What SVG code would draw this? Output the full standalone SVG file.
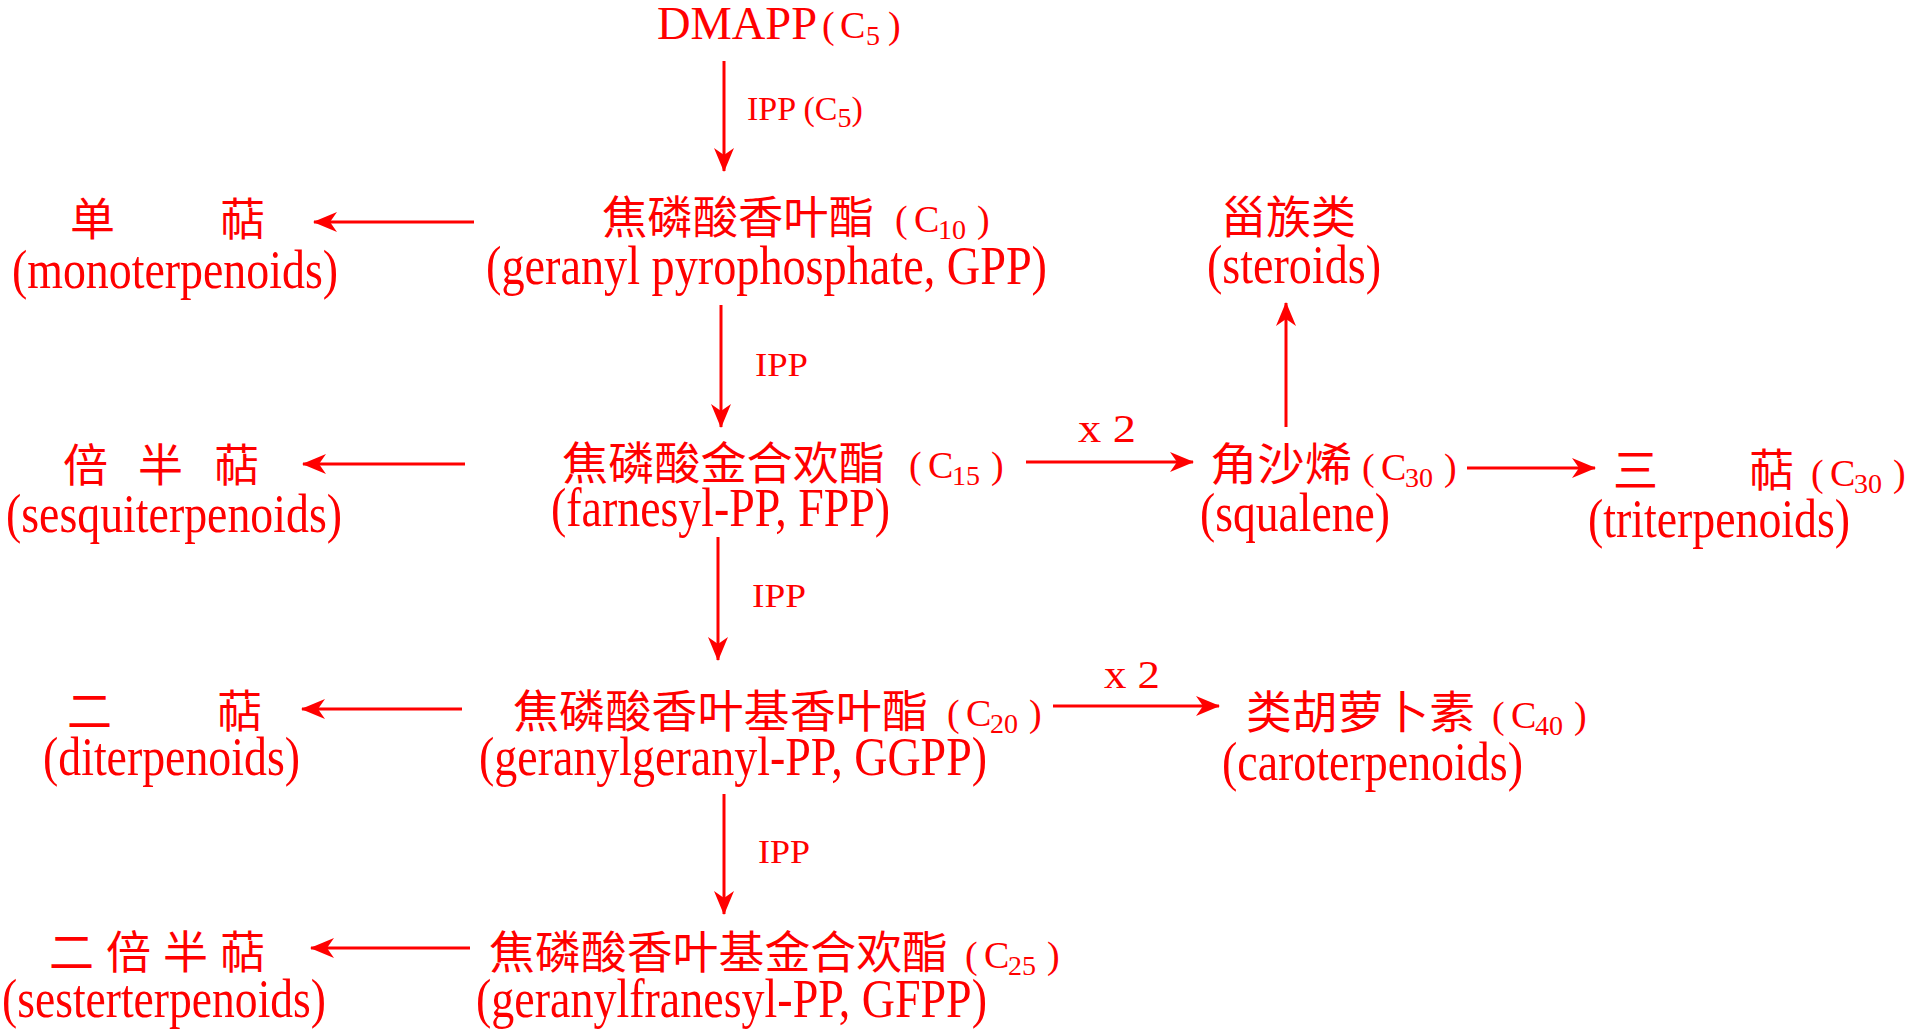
<svg xmlns="http://www.w3.org/2000/svg" width="1915" height="1030" viewBox="0 0 1915 1030">
<defs>
<marker id="ah" viewBox="0 0 24 20" markerUnits="userSpaceOnUse" markerWidth="24" markerHeight="20" refX="23" refY="10" orient="auto">
<path d="M0,0 L24,10 L0,20 L7,10 Z" fill="#ff0000"/>
</marker>
<style>
text{fill:#ff0000}
.cn{font-family:"Noto Sans CJK SC","Noto Sans",sans-serif;font-size:45px}
.en{font-family:"Liberation Serif","Times New Roman",serif;font-size:54px}
.cc{font-family:"Liberation Serif","Times New Roman",serif;font-size:38px}
.sb{font-size:28px}
.lb{font-family:"Liberation Serif","Times New Roman",serif;font-size:34px}
.ln{stroke:#ff0000;stroke-width:3;fill:none;marker-end:url(#ah)}
</style>
</defs>
<rect width="1915" height="1030" fill="#ffffff"/>

<g id="connectors">
<line class="ln" x1="724" y1="61" x2="724" y2="171"/>
<line class="ln" x1="721" y1="305" x2="721" y2="427"/>
<line class="ln" x1="718" y1="537" x2="718" y2="660"/>
<line class="ln" x1="724" y1="794" x2="724" y2="914"/>
<line class="ln" x1="474" y1="222" x2="314" y2="222"/>
<line class="ln" x1="465" y1="464" x2="303" y2="464"/>
<line class="ln" x1="462" y1="709" x2="302" y2="709"/>
<line class="ln" x1="470" y1="948" x2="311" y2="948"/>
<line class="ln" x1="1026" y1="462" x2="1193" y2="462"/>
<line class="ln" x1="1053" y1="706" x2="1219" y2="706"/>
<line class="ln" x1="1467" y1="468" x2="1595" y2="468"/>
<line class="ln" x1="1286" y1="427" x2="1286" y2="303"/>
<text class="lb" x="747" y="120"><tspan>IPP (C</tspan><tspan class="sb" dy="7">5</tspan><tspan dy="-7">)</tspan></text>
<text class="lb" x="755" y="376" textLength="53" lengthAdjust="spacingAndGlyphs">IPP</text>
<text class="lb" x="752" y="607" textLength="54" lengthAdjust="spacingAndGlyphs">IPP</text>
<text class="lb" x="758" y="863" textLength="52" lengthAdjust="spacingAndGlyphs">IPP</text>
<text class="lb" x="1078" y="442" style="font-size:40px" textLength="58" lengthAdjust="spacingAndGlyphs">x 2</text>
<text class="lb" x="1104" y="688" style="font-size:40px" textLength="56" lengthAdjust="spacingAndGlyphs">x 2</text>
</g>

<g id="dmapp">
<text class="en" x="657" y="39" style="font-size:47px" textLength="160" lengthAdjust="spacingAndGlyphs">DMAPP</text>
<text class="cc" y="38"><tspan x="822">(</tspan><tspan x="840">C</tspan><tspan class="sb" x="866" dy="7">5</tspan><tspan x="888" dy="-7">)</tspan></text>
</g>

<g id="gpp">
<text class="cn" x="602" y="234" textLength="272" lengthAdjust="spacingAndGlyphs">焦磷酸香叶酯</text>
<text class="cc" y="232"><tspan x="895">(</tspan><tspan x="914">C</tspan><tspan class="sb" x="938" dy="7">10</tspan><tspan x="977" dy="-7">)</tspan></text>
<text class="en" x="486" y="284" textLength="561" lengthAdjust="spacingAndGlyphs">(geranyl pyrophosphate, GPP)</text>
</g>

<g id="mono">
<text class="cn" x="70" y="236">单</text>
<text class="cn" x="220" y="236">萜</text>
<text class="en" x="12" y="288" textLength="326" lengthAdjust="spacingAndGlyphs">(monoterpenoids)</text>
</g>

<g id="steroids">
<text class="cn" x="1221" y="234" textLength="135" lengthAdjust="spacingAndGlyphs">甾族类</text>
<text class="en" x="1207" y="283" textLength="174" lengthAdjust="spacingAndGlyphs">(steroids)</text>
</g>

<g id="fpp">
<text class="cn" x="562" y="480" textLength="323" lengthAdjust="spacingAndGlyphs">焦磷酸金合欢酯</text>
<text class="cc" y="478"><tspan x="909">(</tspan><tspan x="928">C</tspan><tspan class="sb" x="952" dy="7">15</tspan><tspan x="991" dy="-7">)</tspan></text>
<text class="en" x="551" y="526" textLength="339" lengthAdjust="spacingAndGlyphs">(farnesyl-PP, FPP)</text>
</g>

<g id="sesqui">
<text class="cn" x="63" y="482">倍</text>
<text class="cn" x="138" y="482">半</text>
<text class="cn" x="214" y="482">萜</text>
<text class="en" x="6" y="532" textLength="336" lengthAdjust="spacingAndGlyphs">(sesquiterpenoids)</text>
</g>

<g id="squalene">
<text class="cn" x="1210" y="481" textLength="142" lengthAdjust="spacingAndGlyphs">角沙烯</text>
<text class="cc" y="480"><tspan x="1362">(</tspan><tspan x="1381">C</tspan><tspan class="sb" x="1405" dy="7">30</tspan><tspan x="1444" dy="-7">)</tspan></text>
<text class="en" x="1200" y="531" textLength="190" lengthAdjust="spacingAndGlyphs">(squalene)</text>
</g>

<g id="triterp">
<text class="cn" x="1613" y="487">三</text>
<text class="cn" x="1749" y="487">萜</text>
<text class="cc" y="486"><tspan x="1811">(</tspan><tspan x="1830">C</tspan><tspan class="sb" x="1854" dy="7">30</tspan><tspan x="1893" dy="-7">)</tspan></text>
<text class="en" x="1588" y="537" textLength="262" lengthAdjust="spacingAndGlyphs">(triterpenoids)</text>
</g>

<g id="ggpp">
<text class="cn" x="513" y="728" textLength="415" lengthAdjust="spacingAndGlyphs">焦磷酸香叶基香叶酯</text>
<text class="cc" y="726"><tspan x="947">(</tspan><tspan x="966">C</tspan><tspan class="sb" x="990" dy="7">20</tspan><tspan x="1029" dy="-7">)</tspan></text>
<text class="en" x="479" y="775" textLength="508" lengthAdjust="spacingAndGlyphs">(geranylgeranyl-PP, GGPP)</text>
</g>

<g id="diterp">
<text class="cn" x="67" y="728">二</text>
<text class="cn" x="217" y="728">萜</text>
<text class="en" x="43" y="775" textLength="257" lengthAdjust="spacingAndGlyphs">(diterpenoids)</text>
</g>

<g id="carot">
<text class="cn" x="1246" y="729" textLength="229" lengthAdjust="spacingAndGlyphs">类胡萝卜素</text>
<text class="cc" y="728"><tspan x="1492">(</tspan><tspan x="1511">C</tspan><tspan class="sb" x="1535" dy="7">40</tspan><tspan x="1574" dy="-7">)</tspan></text>
<text class="en" x="1222" y="780" textLength="301" lengthAdjust="spacingAndGlyphs">(caroterpenoids)</text>
</g>

<g id="gfpp">
<text class="cn" x="489" y="969" textLength="459" lengthAdjust="spacingAndGlyphs">焦磷酸香叶基金合欢酯</text>
<text class="cc" y="968"><tspan x="965">(</tspan><tspan x="984">C</tspan><tspan class="sb" x="1008" dy="7">25</tspan><tspan x="1047" dy="-7">)</tspan></text>
<text class="en" x="476" y="1017" textLength="511" lengthAdjust="spacingAndGlyphs">(geranylfranesyl-PP, GFPP)</text>
</g>

<g id="sester">
<text class="cn" x="49" y="969" textLength="216" lengthAdjust="spacing">二倍半萜</text>
<text class="en" x="2" y="1017" textLength="324" lengthAdjust="spacingAndGlyphs">(sesterterpenoids)</text>
</g>
</svg>
